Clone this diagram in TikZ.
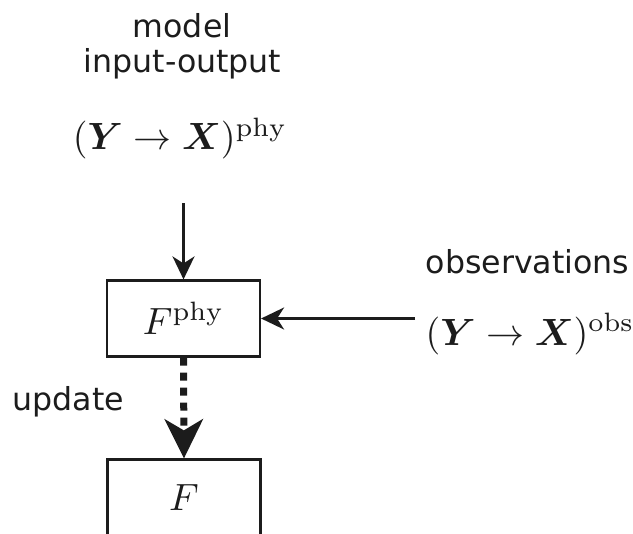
\documentclass[tikz,border=0pt]{standalone}
\usepackage{amsmath,amssymb}
\usepackage{graphicx}
\usepackage{fontspec}
\newfontfamily\labelfont{DejaVu Sans}
\usepackage{tikz}
\usetikzlibrary{arrows.meta,positioning,calc}
\usepackage{xcolor}
\definecolor{ink}{RGB}{28,28,28}
\newcommand{\bigmath}[1]{\scalebox{2.16}{$#1$}}

\begin{document}
\begin{tikzpicture}[
  ink,
  lbl/.style={font=\labelfont\fontsize{18}{22}\selectfont,inner sep=0pt,anchor=base},
  mathlbl/.style={inner sep=0pt,anchor=base},
  blockbox/.style={draw=ink,line width=1.25pt,minimum width=3.06cm,minimum height=1.52cm,
    inner sep=0pt},
  feed/.style={line width=1.25pt,-{Stealth[length=0.46cm,width=0.44cm,inset=0.14cm]}},
  upd/.style={line width=0.14cm,dash pattern=on 0.16cm off 0.14cm,
    -{Stealth[length=0.78cm,width=0.76cm,inset=0.22cm]}}]
\useasboundingbox (0,0) rectangle (12.66,-10.68);
\clip (0,0) rectangle (12.66,-10.68);
% labels on top
\node[lbl] (modeltxt) at (3.64,-0.74) {model};
\node[lbl] (iotxt) at (3.65,-1.46) {input-output};
\node[mathlbl] (phydata) at (3.6,-3.0) {\bigmath{(\boldsymbol{Y}\to\boldsymbol{X})^{\mathrm{phy}}}};
% blocks
\node[blockbox] (fphy) at (3.67,-6.37) {\bigmath{F^{\mathrm{phy}}}};
\node[blockbox] (fout) at (3.68,-9.95) {\bigmath{F}};
% observations
\node[lbl] (obstxt) at (10.55,-5.46) {observations};
\node[mathlbl] (obsdata) at (10.6,-6.9) {\bigmath{(\boldsymbol{Y}\to\boldsymbol{X})^{\mathrm{obs}}}};
\node[lbl] (updtxt) at (1.37,-8.2) {update};
% connectors
\coordinate (phytail) at (3.67,-4.06);
\coordinate (obstail) at (8.3,-6.37);
\draw[feed] (phytail) -- (fphy.north);
\draw[feed] (obstail) -- (fphy.east);
\draw[upd] (fphy.south) -- (fout.north);
\end{tikzpicture}
\end{document}
